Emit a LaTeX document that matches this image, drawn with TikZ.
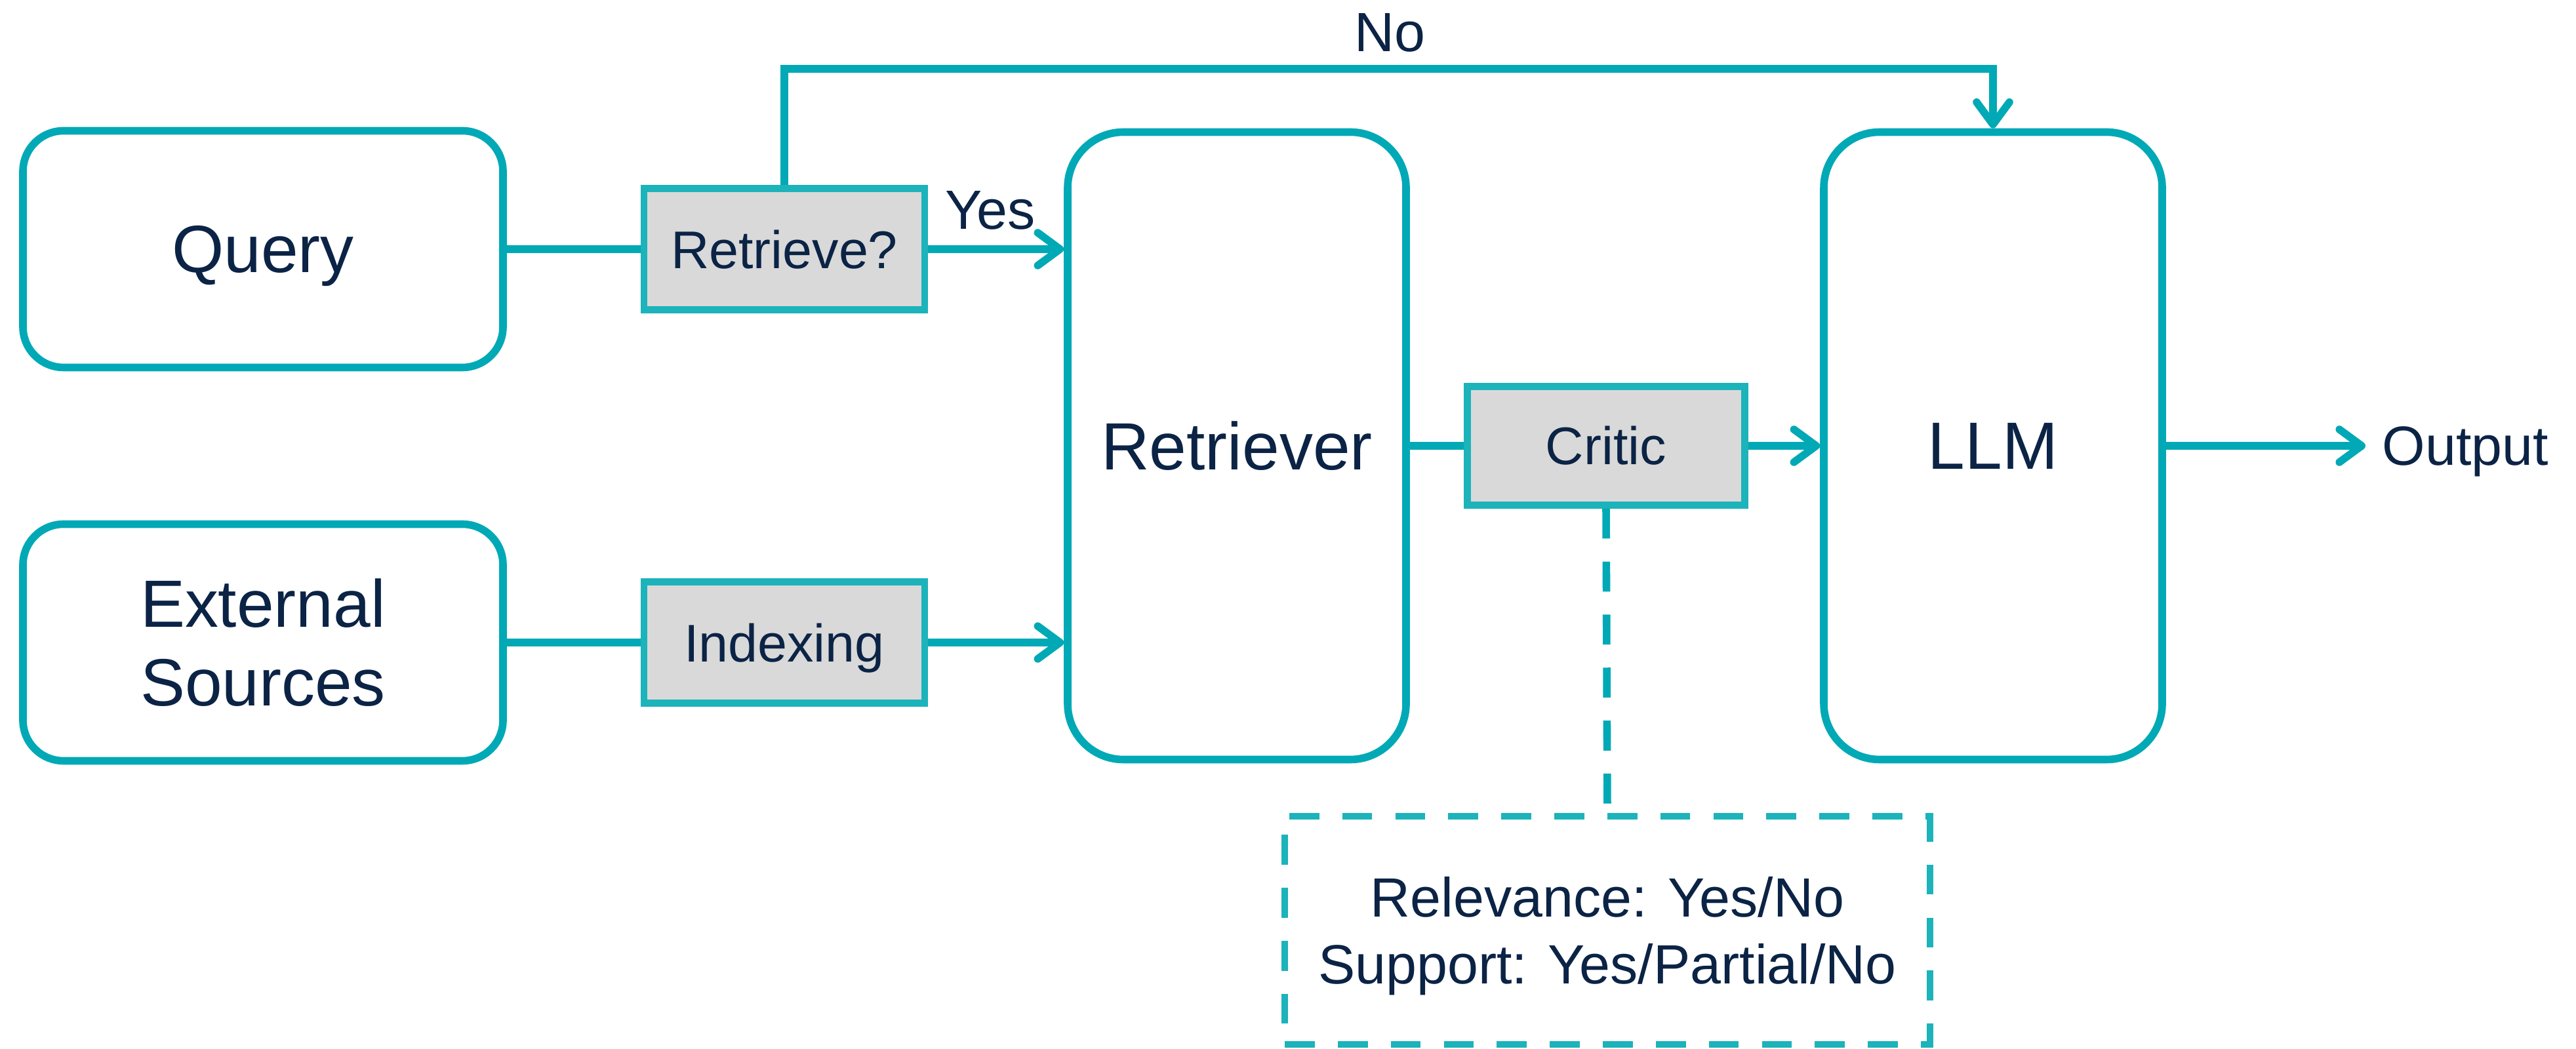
\documentclass[tikz,border=0pt]{standalone}
\usepackage{fontspec}
\setmainfont{Liberation Sans}
\usetikzlibrary{arrows.meta}

\definecolor{ragteal}{HTML}{00A9B5}
\definecolor{boxteal}{HTML}{1CB3BB}
\definecolor{boxgray}{HTML}{D9D9D9}
\definecolor{textnavy}{HTML}{0B2345}

\begin{document}
\begin{tikzpicture}[
    big/.style={draw=ragteal, line width=3.3pt, text=textnavy, align=center,
        font=\fontsize{29}{34}\selectfont},
    gate/.style={draw=boxteal, fill=boxgray, line width=3pt, text=textnavy,
        font=\fontsize{23}{28}\selectfont, minimum width=4.28cm, minimum height=1.85cm},
    tag/.style={text=textnavy, font=\fontsize{24}{29}\selectfont, align=center},
    link/.style={draw=ragteal, line width=3.3pt},
    flow/.style={link, -{Straight Barb[length=0.34cm, width=0.5cm, round]}},
    critdash/.style={dash pattern=on 13pt off 10pt}
]
    \useasboundingbox (0,0) rectangle (39.28,16);

    \node (query) at (4.01,12.2) [big, text depth=0pt, rounded corners=0.62cm, minimum width=7.32cm, minimum height=3.61cm] {Query};
    \node (sources) at (4.01,6.2) [big, rounded corners=0.62cm, minimum width=7.32cm, minimum height=3.61cm] {External\\Sources};
    \node (retrieve) at (11.96,12.2) [gate, text depth=0pt] {Retrieve?};
    \node (indexing) at (11.96,6.2) [gate, text depth=0pt] {Indexing};
    \node (retriever) at (18.86,9.2) [big, rounded corners=0.85cm, minimum width=5.16cm, minimum height=9.57cm] {Retriever};
    \node (critic) at (24.49,9.2) [gate, minimum width=4.23cm, minimum height=1.81cm] {Critic};
    \node (llm) at (30.39,9.2) [big, rounded corners=0.85cm, minimum width=5.16cm, minimum height=9.57cm] {LLM};
    \node (output) at (36.07,9.2) [tag, anchor=west, inner sep=0.25cm, text depth=0pt] {Output};
    \node (scores) at (24.51,1.81) [tag, draw=boxteal, line width=3pt, critdash, text depth=0pt,
        minimum width=9.84cm, minimum height=3.48cm] {Relevance: Yes/No\\Support: Yes/Partial/No};
    \node (yes) at (15.10,12.79) [tag] {Yes};
    \node (no) at (21.19,15.5) [tag] {No};
    \coordinate (bend) at (21.19,14.95);

    \draw[link] (query) -- (retrieve);
    \draw[flow] (retrieve.east) -- (retrieve.east -| retriever.west);
    \draw[flow] (retrieve.north) |- (bend) -| (llm.north);
    \draw[link] (sources) -- (indexing);
    \draw[flow] (indexing.east) -- (indexing.east -| retriever.west);
    \draw[link] (retriever) -- (critic);
    \draw[flow] (critic) -- (llm);
    \draw[flow] (llm) -- (output);
    \draw[link, critdash] (critic.south) -- (scores.north);
\end{tikzpicture}
\end{document}
